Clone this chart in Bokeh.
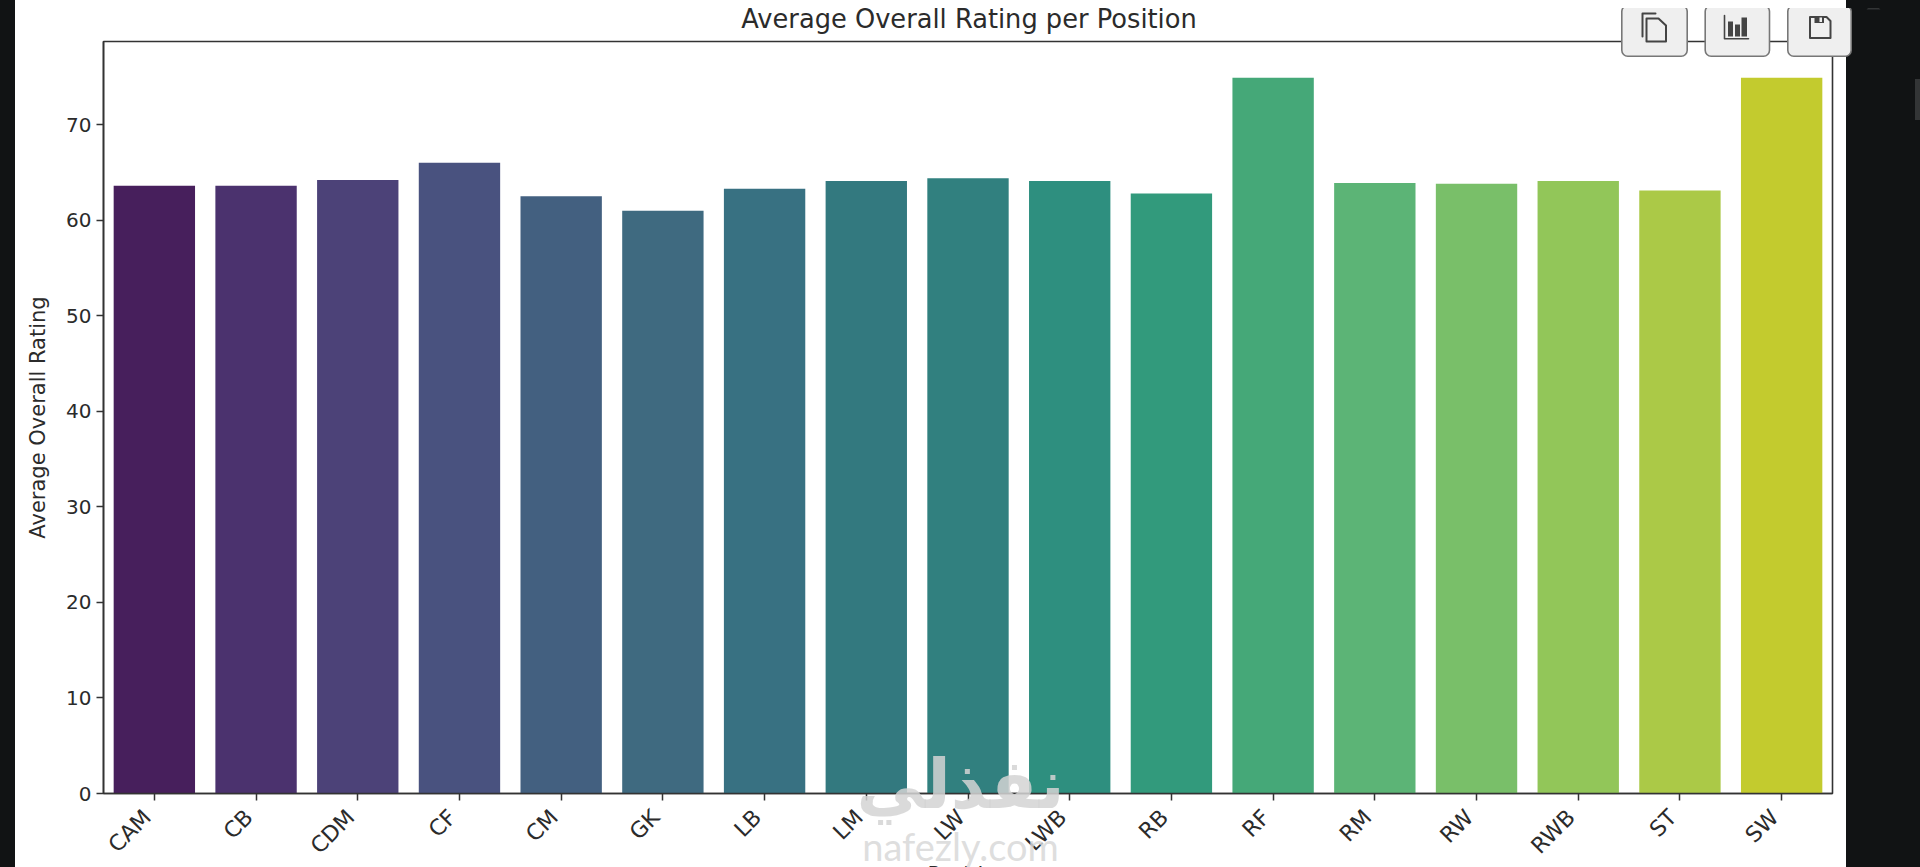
from bokeh.embed import file_html
from bokeh.resources import INLINE
from bokeh.plotting import figure
from bokeh.layouts import column, row
from bokeh.core.properties import value
from bokeh.models import ColumnDataSource, FixedTicker, GlobalInlineStyleSheet, Range1d, LinearAxis

positions = ["CAM", "CB", "CDM", "CF", "CM", "GK", "LB", "LM", "LW", "LWB",
             "RB", "RF", "RM", "RW", "RWB", "ST", "SW"]
ratings = [63.6, 63.6, 64.2, 66.0, 62.5, 61.0, 63.3, 64.1, 64.4, 64.1,
           62.8, 74.9, 63.9, 63.8, 64.1, 63.1, 74.9]
bar_colors = ["#471f5c", "#4b326e", "#4c4278", "#49527f", "#436080", "#3f6a80",
              "#387182", "#33797f", "#31807f", "#2e8f7f", "#329a7c", "#45a878",
              "#5cb476", "#79bf69", "#92c659", "#abc947", "#c3cb2e"]
y_ticks = [0, 10, 20, 30, 40, 50, 60, 70]
chart_title = "Average Overall Rating per Position"
y_title = "Average Overall Rating"
x_title = "Position"
INK = "#2b2b2b"
DARK = "#111314"

css = f"""
html {{ overflow: hidden; height: 867px; }}
body {{ margin: 8px 8px 0 8px; height: 859px; background: transparent; }}
html {{ background:
  linear-gradient(#333536,#333536) 1915px 79px / 5px 41px no-repeat,
  linear-gradient(to right, {DARK} 15.5px, #ffffff 15.5px, #ffffff 1846.5px, {DARK} 1846.5px); }}
"""

indices = list(range(len(positions)))

p = figure(width=1904, height=862, x_range=Range1d(-0.5, len(positions) - 0.5), y_range=(0, 78.7),
           output_backend="svg", toolbar_location=None,
           min_border_left=95, min_border_right=80, min_border_top=33, min_border_bottom=75,
           background_fill_color="#ffffff", border_fill_color=None)
p.stylesheets = [GlobalInlineStyleSheet(css=css)]

src = ColumnDataSource(dict(x=indices, top=ratings, color=bar_colors))
p.vbar(x="x", top="top", width=0.8, bottom=0, fill_color="color", line_color=None, source=src)

p.grid.visible = False
p.outline_line_color = "#333333"
p.outline_line_width = 1.6

for ax in (p.xaxis[0], p.yaxis[0]):
    ax.axis_line_color = "#333333"
    ax.axis_line_width = 1.6
    ax.major_tick_line_color = "#333333"
    ax.major_tick_line_width = 1.5
    ax.major_tick_in = 0
    ax.major_tick_out = 7
    ax.minor_tick_line_color = None
    ax.major_label_text_font = "DejaVu Sans"
    ax.major_label_text_color = INK
p.xaxis[0].ticker = FixedTicker(ticks=indices)
p.xaxis[0].major_label_overrides = {i: "" for i in indices}
p.xaxis[0].major_label_standoff = 0
p.xaxis[0].major_label_text_font_size = "1px"
p.yaxis[0].major_label_text_font_size = "20px"
p.yaxis[0].ticker = FixedTicker(ticks=y_ticks)
p.yaxis[0].axis_label = y_title
p.yaxis[0].axis_label_text_font = "DejaVu Sans"
p.yaxis[0].axis_label_text_font_style = "normal"
p.yaxis[0].axis_label_text_font_size = "21px"
p.yaxis[0].axis_label_text_color = INK
p.yaxis[0].axis_label_standoff = 13

# Tick labels hang slightly left of their ticks, as matplotlib's ha="right" does
label_shift = 0.07
p.extra_x_ranges["labels"] = Range1d(-0.5 + label_shift, len(positions) - 0.5 + label_shift)
label_axis = LinearAxis(x_range_name="labels",
                        ticker=FixedTicker(ticks=indices),
                        major_label_overrides={i: c for i, c in enumerate(positions)},
                        axis_line_color=None, major_tick_line_color=None,
                        minor_tick_line_color=None, major_tick_in=0, major_tick_out=0,
                        major_label_orientation=0.785, major_label_standoff=13,
                        major_label_text_font="DejaVu Sans", major_label_text_font_size="22px",
                        major_label_text_color=INK)
p.add_layout(label_axis, "below")

# Overlay figure: its data coordinates are the pixels of the page
q = figure(width=1904, height=867, x_range=Range1d(8, 1912), y_range=Range1d(867, 0),
           output_backend="svg", toolbar_location=None,
           min_border_left=0, min_border_right=0, min_border_top=0, min_border_bottom=0,
           background_fill_color=None, border_fill_color=None, outline_line_color=None,
           x_axis_location=None, y_axis_location=None)
q.grid.visible = False


def text(x, y, s, size, font="DejaVu Sans", color=INK, alpha=1.0, style="normal", baseline="middle"):
    q.text([x], [y], text=[s], text_font=value(font), text_font_size=value(size),
           text_color=color, text_alpha=alpha, text_font_style=style,
           text_align="center", text_baseline=baseline)


text(968.5, 18.5, chart_title, "25.7px")
text(968, 862, x_title, "21px", baseline="top")
text(960, 784, "نفذلي", "68px", color="#d4d4d4", alpha=0.85, style="bold")
text(960, 845, "nafezly.com", "38px", font="Lato", color="#d8d8d8", alpha=0.85)


def box(l, t, r, b, fill, line=None, radius=0, lw=2):
    q.quad(left=[l], right=[r], top=[t], bottom=[b], fill_color=fill, line_color=line,
           line_width=lw, border_radius=radius)


def poly(xs, ys, fill=None, line="#444444", lw=2):
    if fill:
        q.patch(xs, ys, fill_color=fill, line_color=line, line_width=lw)
    else:
        q.line(xs, ys, line_color=line, line_width=lw, line_join="round", line_cap="round")


# Scroll arrow of the surrounding page
poly([1866, 1873, 1880], [9, 2.5, 9], fill="#333536", line=None, lw=0)

# Overlaid buttons
for l, r in [(1621.3, 1686.7), (1704.7, 1769), (1787.3, 1850.7)]:
    box(l, 5, r, 55.7, "#efefef", "#777777", 6, 1.6)

# Copy icon
poly([1642, 1642, 1655], [36, 13, 13])
poly([1646, 1658, 1665.5, 1665.5, 1646, 1646], [18, 18, 25, 41, 41, 18])
# Chart icon
poly([1724, 1724, 1748], [15, 38.3, 38.3], lw=1.6)
box(1727.5, 21, 1732.5, 36, "#444444")
box(1734.5, 24, 1739.5, 36, "#444444")
box(1741, 17, 1746.5, 36, "#444444")
# Save icon
poly([1809.5, 1826, 1830, 1830, 1809.5, 1809.5], [16.5, 16.5, 20.5, 37.5, 37.5, 16.5])
box(1814, 17, 1823.5, 22.5, "#444444")
box(1819, 17, 1821.5, 21.5, "#efefef")

overlay = row(q)
overlay.styles = {"position": "absolute", "left": "0px", "top": "-8px", "pointer-events": "none"}
page = column(p, overlay)

open("out.html", "w").write(file_html(page, INLINE))
